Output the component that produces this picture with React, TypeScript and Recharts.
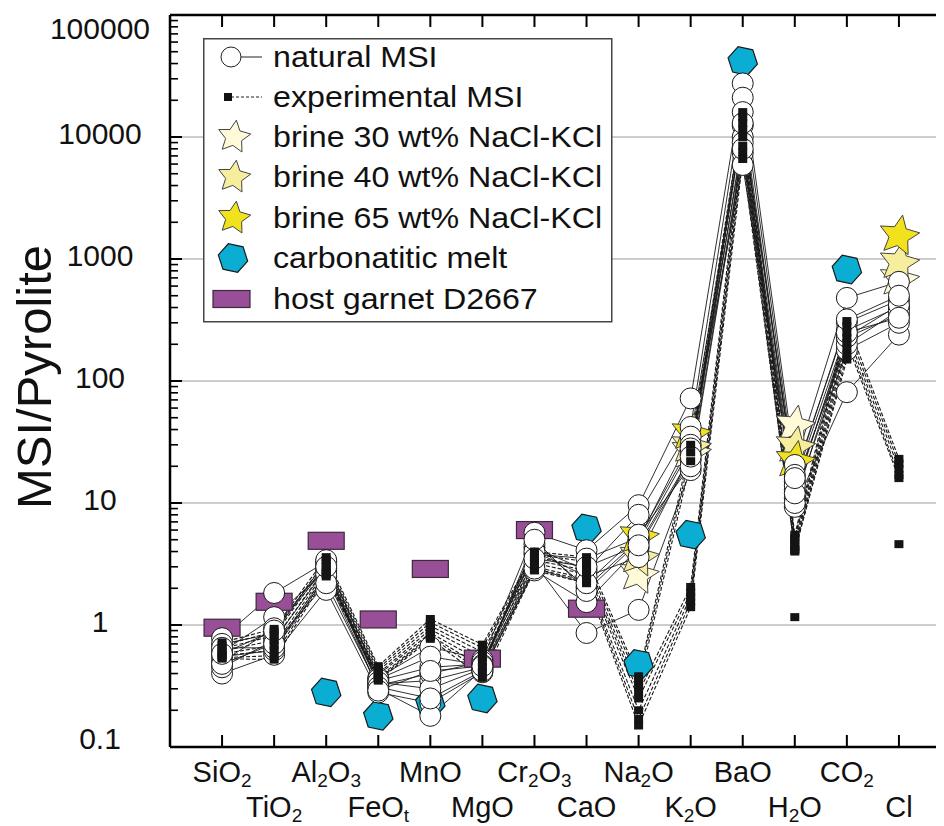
import React from "react";
import { ComposedChart, Line, Scatter, XAxis, YAxis, ReferenceLine, Legend } from "recharts";

// ---------- categories & ticks ----------
const categories = ["SiO_2", "TiO_2", "Al_2O_3", "FeO_t", "MnO", "MgO", "Cr_2O_3", "CaO", "Na_2O", "K_2O", "BaO", "H_2O", "CO_2", "Cl"];
const yTickValues = [0.1, 1, 10, 100, 1000, 10000, 100000];
const yTickLabels = ["0.1", "1", "10", "100", "1000", "10000", "100000"];
const legendLabels = [
  "natural MSI",
  "experimental MSI",
  "brine 30 wt% NaCl-KCl",
  "brine 40 wt% NaCl-KCl",
  "brine 65 wt% NaCl-KCl",
  "carbonatitic melt",
  "host garnet D2667",
];

// ---------- natural MSI (SiO2 ... Cl) ----------
const natural1 = [0.78, 1.83, 3.3, 0.37, 0.66, 0.52, 5.7, 4.1, 9.6, 72, 27500, 20.5, 480, 650];
const natural2 = [0.6, 1.16, 2.8, 0.35, 0.45, 0.48, 4.3, 2.8, 8.0, 42, 21000, 17, 303, 460];
const natural3 = [0.5, 0.94, 3.1, 0.33, 0.35, 0.45, 4.6, 2.04, 5.0, 35, 12400, 15, 260, 405];
const natural4 = [0.4, 0.57, 1.94, 0.28, 0.23, 0.41, 2.8, 1.54, 4.3, 22.5, 10000, 12.8, 228, 350];
const natural5 = [0.55, 0.62, 2.5, 0.3, 0.18, 0.43, 3.2, 0.86, 1.33, 18.6, 7400, 9.3, 81, 240];
const natural6 = [0.45, 0.75, 2.9, 0.32, 0.4, 0.5, 3.8, 3.5, 5.2, 30, 5900, 11, 180, 300];
const natural7 = [0.7, 0.85, 3.4, 0.36, 0.55, 0.47, 4.0, 2.5, 3.6, 25, 16000, 14, 200, 380];
const natural8 = [0.65, 0.65, 2.6, 0.34, 0.3, 0.44, 5.0, 1.9, 4.8, 28, 9000, 10, 230, 420];
const natural9 = [0.48, 0.7, 2.2, 0.31, 0.25, 0.42, 2.9, 2.2, 5.5, 20, 8000, 12, 250, 330];
const natural10 = [0.58, 0.9, 3.0, 0.29, 0.42, 0.46, 3.5, 3.0, 4.5, 24, 13000, 16, 320, 500];

// ---------- experimental MSI ----------
const experimental1 = [0.72, 0.93, 3.6, 0.46, 1.12, 0.69, 4.0, 3.6, 0.38, 30, 16000, 5.5, 310, 23];
const experimental2 = [0.68, 0.88, 3.4, 0.44, 1.05, 0.65, 3.8, 3.3, 0.35, 26, 14500, 5.2, 280, 21];
const experimental3 = [0.64, 0.82, 3.2, 0.42, 0.98, 0.6, 3.6, 3.0, 0.31, 22, 13000, 5.0, 250, 19];
const experimental4 = [0.61, 0.75, 3.0, 0.4, 0.92, 0.55, 3.4, 2.8, 0.28, 2.05, 11500, 4.7, 225, 17];
const experimental5 = [0.58, 0.68, 2.8, 0.39, 0.86, 0.5, 3.2, 2.6, 0.25, 1.85, 10000, 4.4, 205, 16];
const experimental6 = [0.56, 0.62, 2.7, 0.37, 0.82, 0.45, 3.0, 2.4, 0.2, 1.7, 8500, 4.2, 185, null];
const experimental7 = [0.54, 0.56, 2.6, 0.36, 0.8, 0.41, 2.9, 2.3, 0.17, 1.55, 7500, 4.0, 165, null];
const experimental8 = [0.53, 0.52, 2.5, 0.35, 0.77, 0.37, 2.8, 2.2, 0.15, 1.4, 6600, 4.1, 150, null];
const experimentalSingles = [null, null, null, null, null, null, null, null, null, null, null, 1.16, null, 4.6];

// ---------- other phases ----------
const brine30 = [null, null, null, null, null, null, null, null, 2.6, 26, null, 43, null, 680];
const brine40 = [null, null, null, null, null, null, null, null, 3.6, 29, null, 29, null, 930];
const brine65 = [null, null, null, null, null, null, null, null, 5.3, 37, null, 22, null, 1550];
const carbonatiticMelt = [null, null, 0.28, 0.18, 0.23, 0.25, null, 6.2, 0.48, 5.5, 42000, null, 820, null];
const hostGarnet = [0.95, 1.55, 4.9, 1.11, 2.88, 0.53, 6.0, 1.36, null, null, null, null, null, null];

const naturalSeries = [natural1, natural2, natural3, natural4, natural5, natural6, natural7, natural8, natural9, natural10];
const experimentalSeries = [experimental1, experimental2, experimental3, experimental4, experimental5, experimental6, experimental7, experimental8];

// ---------- styling / layout ----------
const FONT = "'Liberation Sans', Arial, Helvetica, sans-serif";
const W = 936;
const H = 818;
const PL = 162; // plot left (local)
const PR = 943; // plot right (local)
const PT = 7;
const PB = 739;
const C_B30 = "#FFFBD9";
const C_B40 = "#F6EE9C";
const C_B65 = "#F2E21E";
const C_CARB = "#0BADD2";
const C_GRT = "#994E98";

type Pt = { x: number; y: number };
const toPts = (vals: (number | null)[]): Pt[] =>
  vals.map((v, i) => (v == null ? null : { x: i + 1, y: v })).filter((p): p is Pt => p !== null);

const xTicks = categories.map((_, i) => i + 1);
const yAllTicks: number[] = [];
yTickValues.forEach((d, k) => {
  if (k < yTickValues.length - 1) {
    for (let m = 1; m <= 9; m++) yAllTicks.push(Number((m * d).toPrecision(3)));
  } else yAllTicks.push(d);
});

function starPath(cx: number, cy: number, R: number, r: number, rot: number) {
  let d = "";
  for (let i = 0; i < 10; i++) {
    const a = ((rot - 90 + i * 36) * Math.PI) / 180;
    const rr = i % 2 === 0 ? R : r;
    d += (i ? "L" : "M") + (cx + rr * Math.cos(a)).toFixed(2) + "," + (cy + rr * Math.sin(a)).toFixed(2);
  }
  return d + "Z";
}
function hexPath(cx: number, cy: number, R: number, rot: number) {
  let d = "";
  for (let i = 0; i < 6; i++) {
    const a = ((rot + i * 60) * Math.PI) / 180;
    d += (i ? "L" : "M") + (cx + R * Math.cos(a)).toFixed(2) + "," + (cy + R * Math.sin(a)).toFixed(2);
  }
  return d + "Z";
}

function parseLabel(s: string) {
  const segs: { t: string; sub: boolean }[] = [];
  for (let i = 0; i < s.length; i++) {
    if (s[i] === "_") {
      segs.push({ t: s[i + 1], sub: true });
      i++;
    } else {
      const last = segs[segs.length - 1];
      if (last && !last.sub) last.t += s[i];
      else segs.push({ t: s[i], sub: false });
    }
  }
  return segs;
}

const SUB_DY = 4.5;
const XFS = 29;
const XSUBFS = 19;

const renderXTick = (props: any) => {
  const { x, payload } = props;
  const idx = Math.round(payload.value) - 1;
  const label = categories[idx];
  const row = idx % 2;
  const baseY = PB + (row === 0 ? 35 : 70);
  const segs = parseLabel(label || "");
  let shift = 0;
  return (
    <g>
      <line x1={x} x2={x} y1={PB} y2={PB - 12} stroke="#000" strokeWidth={2} />
      <line x1={x} x2={x} y1={PT} y2={PT + 12} stroke="#000" strokeWidth={2} />
      <text x={x} y={baseY} textAnchor="middle" fontFamily={FONT} fontSize={XFS} fill="#111">
        {segs.map((s, k) => {
          let dy = 0;
          if (s.sub && shift === 0) {
            dy = SUB_DY;
            shift = SUB_DY;
          } else if (!s.sub && shift !== 0) {
            dy = -SUB_DY;
            shift = 0;
          }
          return (
            <tspan key={k} dy={dy} fontSize={s.sub ? XSUBFS : XFS}>
              {s.t}
            </tspan>
          );
        })}
      </text>
    </g>
  );
};

const renderYTick = (props: any) => {
  const { y, payload } = props;
  const v = payload.value;
  const lg = Math.log10(v);
  const major = Math.abs(lg - Math.round(lg)) < 1e-6;
  const len = major ? 12 : 8;
  const k = yTickValues.findIndex((t) => Math.abs(t - v) < 1e-9);
  let off = -4;
  if (k === 0) off = -9;
  if (k === yTickValues.length - 1) off = 13;
  return (
    <g>
      <line x1={PL} x2={PL + len} y1={y} y2={y} stroke="#000" strokeWidth={major ? 2 : 1.6} />
      <line x1={PR - len} x2={PR} y1={y} y2={y} stroke="#000" strokeWidth={major ? 2 : 1.6} />
      {major && k >= 0 && (
        <text x={92} y={y + off + 10.7} textAnchor="middle" fontFamily={FONT} fontSize={30} fill="#111">
          {yTickLabels[k]}
        </text>
      )}
    </g>
  );
};

const YLabel = () => (
  <text transform="translate(43,369) rotate(-90)" textAnchor="middle" fontFamily={FONT} fontSize={49} fill="#111">
    MSI/Pyrolite
  </text>
);

const circleShape = (p: any) => <circle cx={p.cx} cy={p.cy} r={10.5} fill="#fff" stroke="#1a1a1a" strokeWidth={1} />;
const squareShape = (p: any) => <rect x={p.cx - 4.5} y={p.cy - 4} width={9} height={8} fill="#141414" />;
const hexShape = (p: any) => <path d={hexPath(p.cx, p.cy, 15, 12)} fill={C_CARB} stroke="#1a1a1a" strokeWidth={1.2} />;
const rectShape = (p: any) => (
  <rect x={p.cx - 18} y={p.cy - 8.5} width={36} height={17} fill={C_GRT} stroke="#3a2a3a" strokeWidth={1.2} />
);
const starShape = (fill: string) => (p: any) =>
  <path d={starPath(p.cx, p.cy, 21, 10, 10)} fill={fill} stroke="#444" strokeWidth={1} />;

const renderLegend = () => {
  const rows = [19, 59, 99, 139, 180, 220, 261];
  return (
    <svg width={412} height={288} style={{ display: "block", overflow: "visible" }}>
      <rect x={0.75} y={0.75} width={408} height={283} fill="#fff" stroke="#444" strokeWidth={1.5} />
      <line x1={36} x2={59} y1={rows[0]} y2={rows[0]} stroke="#222" strokeWidth={1} />
      <circle cx={28} cy={rows[0]} r={10} fill="#fff" stroke="#222" strokeWidth={1} />
      <line x1={28} x2={59} y1={rows[1]} y2={rows[1]} stroke="#222" strokeWidth={1} strokeDasharray="3 2" />
      <rect x={21} y={rows[1] - 4} width={8} height={8} fill="#111" />
      <path d={starPath(31, rows[2], 17, 8.5, 8)} fill={C_B30} stroke="#444" strokeWidth={1} />
      <path d={starPath(31, rows[3], 17, 8.5, 8)} fill={C_B40} stroke="#444" strokeWidth={1} />
      <path d={starPath(31, rows[4], 17, 8.5, 8)} fill={C_B65} stroke="#444" strokeWidth={1} />
      <path d={hexPath(30, rows[5], 15, 12)} fill={C_CARB} stroke="#1a1a1a" strokeWidth={1.2} />
      <rect x={10} y={rows[6] - 8.5} width={37} height={17} fill={C_GRT} stroke="#3a2a3a" strokeWidth={1.2} />
      {legendLabels.map((t, i) => (
        <text
          key={t}
          transform={`translate(70,${rows[i] + 10}) scale(1.11,1)`}
          fontFamily={FONT}
          fontSize={29}
          fill="#111"
        >
          {t}
        </text>
      ))}
    </svg>
  );
};

export default function App() {
  return (
    <ComposedChart width={W} height={H} margin={{ top: PT, right: W - PR, bottom: 0, left: 0 }}>
      <XAxis
        dataKey="x"
        type="number"
        domain={[0, 15]}
        allowDataOverflow
        ticks={xTicks}
        interval={0}
        height={H - PB}
        tickLine={false}
        axisLine={{ stroke: "#000", strokeWidth: 2.5 }}
        tick={renderXTick}
      />
      <YAxis
        dataKey="y"
        type="number"
        scale="log"
        domain={[0.1, 100000]}
        allowDataOverflow
        ticks={yAllTicks}
        interval={0}
        width={PL}
        tickLine={false}
        axisLine={{ stroke: "#000", strokeWidth: 2.5 }}
        tick={renderYTick}
        label={<YLabel />}
      />
      {yTickValues.slice(1, -1).map((v) => (
        <ReferenceLine key={v} y={v} stroke="#bdbdbd" strokeWidth={1.5} />
      ))}
      <ReferenceLine y={100000} stroke="#000" strokeWidth={2.5} />

      <Scatter data={toPts(hostGarnet)} shape={rectShape} isAnimationActive={false} />
      <Scatter data={toPts(carbonatiticMelt)} shape={hexShape} isAnimationActive={false} />
      <Scatter data={toPts(brine30)} shape={starShape(C_B30)} isAnimationActive={false} />
      <Scatter data={toPts(brine40)} shape={starShape(C_B40)} isAnimationActive={false} />
      <Scatter data={toPts(brine65)} shape={starShape(C_B65)} isAnimationActive={false} />

      {naturalSeries.map((s, i) => (
        <Line
          key={"n" + i}
          data={toPts(s)}
          dataKey="y"
          stroke="#1a1a1a"
          strokeWidth={0.9}
          dot={false}
          activeDot={false}
          isAnimationActive={false}
        />
      ))}
      {experimentalSeries.map((s, i) => (
        <Line
          key={"e" + i}
          data={toPts(s)}
          dataKey="y"
          stroke="#1a1a1a"
          strokeWidth={1.1}
          strokeDasharray="4 2"
          dot={false}
          activeDot={false}
          isAnimationActive={false}
        />
      ))}
      <Scatter data={naturalSeries.flatMap((s) => toPts(s))} shape={circleShape} isAnimationActive={false} />
      <Scatter
        data={[...experimentalSeries.flatMap((s) => toPts(s)), ...toPts(experimentalSingles)]}
        shape={squareShape}
        isAnimationActive={false}
      />
      <Legend
        content={renderLegend}
        layout="horizontal"
        verticalAlign="middle"
        align="center"
        wrapperStyle={{ left: 195, top: 30, width: 412, height: 288 }}
      />
    </ComposedChart>
  );
}
